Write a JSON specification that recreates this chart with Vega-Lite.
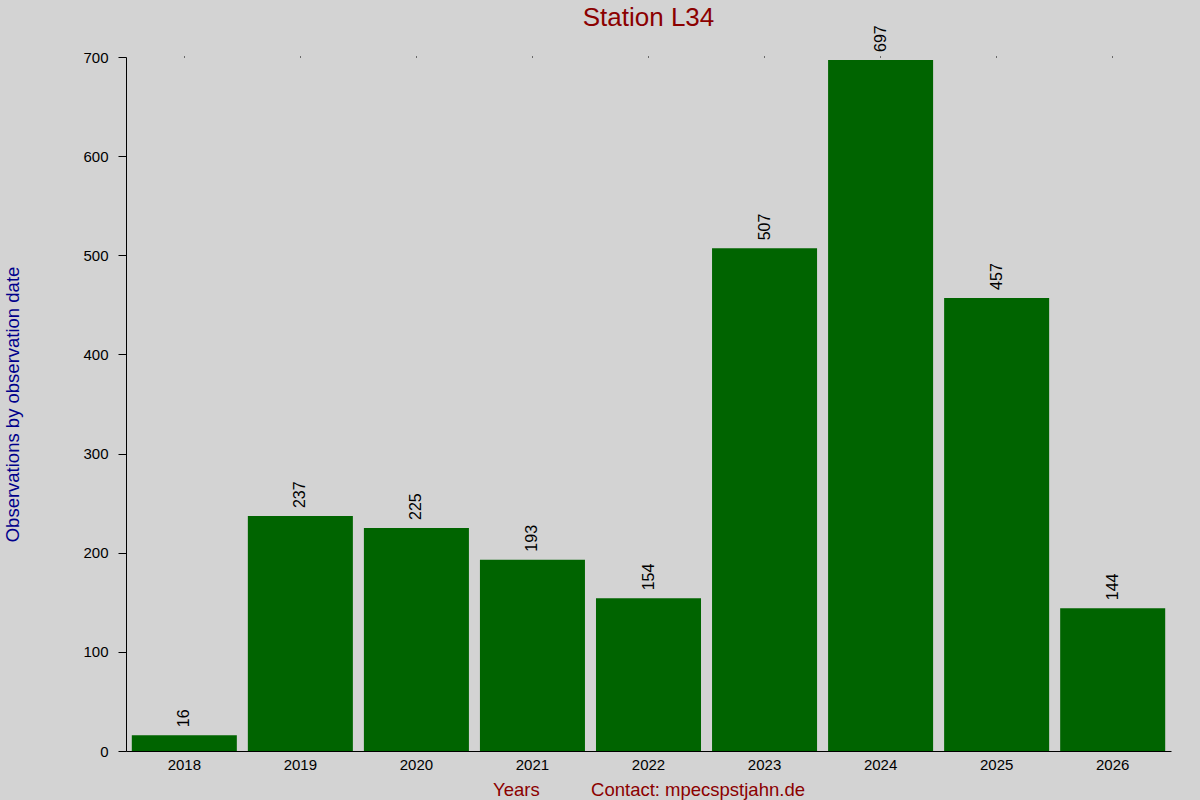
{
  "$schema": "https://vega.github.io/schema/vega-lite/v6.json",
  "width": 1045,
  "height": 694,
  "autosize": {"type": "none"},
  "padding": {"left": 126, "top": 57, "right": 29, "bottom": 49},
  "background": "#d3d3d3",
  "config": {
    "view": {"stroke": null},
    "font": "Liberation Sans",
    "axis": {"labelFont": "Liberation Sans", "titleFont": "Liberation Sans", "labelColor": "#000000", "domainColor": "#000000", "tickColor": "#000000", "grid": false}
  },
  "title": {
    "text": "Station L34",
    "color": "#8b0000",
    "fontSize": 26,
    "fontWeight": "normal",
    "font": "Liberation Sans",
    "anchor": "middle",
    "baseline": "alphabetic",
    "offset": 1,
    "dy": 28
  },
  "data": {
    "values": [
      {"year": "2018", "obs": 16},
      {"year": "2019", "obs": 237},
      {"year": "2020", "obs": 225},
      {"year": "2021", "obs": 193},
      {"year": "2022", "obs": 154},
      {"year": "2023", "obs": 507},
      {"year": "2024", "obs": 697},
      {"year": "2025", "obs": 457},
      {"year": "2026", "obs": 144}
    ]
  },
  "encoding": {
    "x": {
      "field": "year",
      "type": "ordinal",
      "scale": {"paddingInner": 0.095, "paddingOuter": 0.05},
      "axis": {
        "title": "Years\u00a0\u00a0\u00a0\u00a0\u00a0\u00a0\u00a0\u00a0\u00a0\u00a0Contact: mpecspstjahn.de",
        "titleColor": "#8b0000",
        "titleFontSize": 18.5,
        "titleFontWeight": "normal",
        "titlePadding": 8,
        "labelAngle": 0,
        "labelFontSize": 15,
        "labelPadding": 6,
        "ticks": false,
        "domainWidth": 1
      }
    },
    "y": {
      "field": "obs",
      "type": "quantitative",
      "scale": {"domain": [0, 700], "nice": false},
      "axis": {
        "title": "Observations by observation date",
        "titleColor": "#00008b",
        "titleFontSize": 18.5,
        "titleFontWeight": "normal",
        "titlePadding": 60,
        "values": [0, 100, 200, 300, 400, 500, 600, 700],
        "labelFontSize": 15,
        "labelPadding": 10,
        "tickSize": 8
      }
    }
  },
  "layer": [
    {
      "mark": {"type": "bar", "color": "#006400"}
    },
    {
      "mark": {"type": "text", "angle": 270, "align": "left", "baseline": "middle", "dx": 8, "fontSize": 16, "color": "#000000"},
      "encoding": {
        "text": {"field": "obs", "type": "quantitative"},
        "x": {
          "field": "year",
          "type": "ordinal",
          "axis": {"orient": "top", "labels": false, "domain": false, "title": null, "tickSize": 1, "tickColor": "#000000"}
        }
      }
    }
  ],
  "resolve": {"axis": {"x": "independent"}}
}
